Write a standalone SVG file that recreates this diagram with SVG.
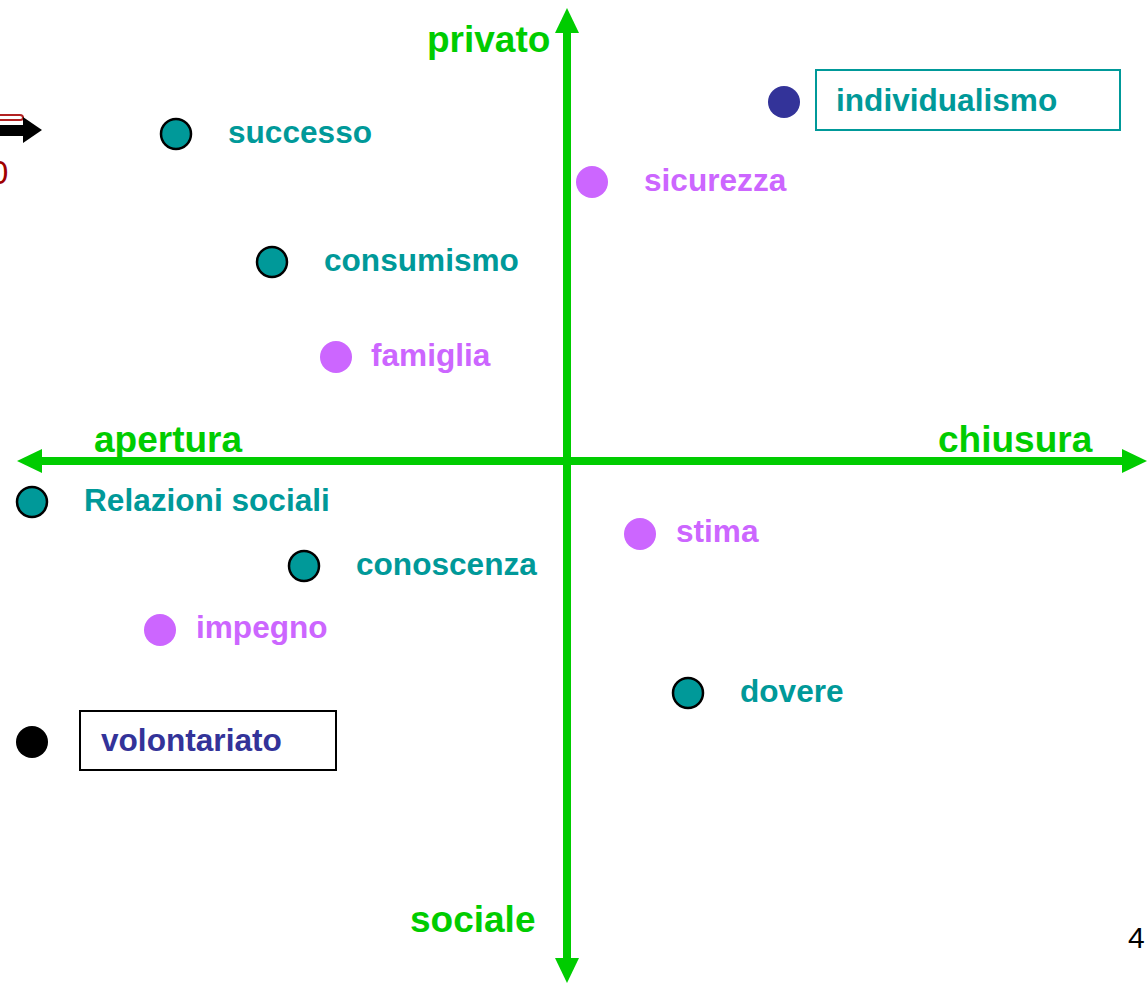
<svg xmlns="http://www.w3.org/2000/svg" width="1147" height="985" viewBox="0 0 1147 985">
<style>
text{font-family:"Liberation Sans",Arial,sans-serif;font-weight:bold}
.ax{fill:#00CC00;font-size:37px}
.lb{font-size:31.6px}
.t{fill:#009999}
.p{fill:#CC66FF}
.b{fill:#333399}
.ct{fill:#009999;stroke:#000;stroke-width:2.5}
.cp{fill:#CC66FF}
.axis{stroke:#00CC00;stroke-width:8;fill:none}
.head{fill:#00CC00}
</style>
<rect width="1147" height="985" fill="#fff"/>
<g id="connectors">
<line class="axis" x1="567" y1="28" x2="567" y2="962"/>
<polygon class="head" points="567,8 555,33 579,33"/>
<polygon class="head" points="567,983 555,958 579,958"/>
<line class="axis" x1="38" y1="461" x2="1127" y2="461"/>
<polygon class="head" points="17,461 42,449 42,473"/>
<polygon class="head" points="1147,461 1122,449 1122,473"/>
</g>
<g id="axis-labels">
<text class="ax" x="427" y="52">privato</text>
<text class="ax" x="410" y="932">sociale</text>
<text class="ax" x="94" y="452">apertura</text>
<text class="ax" x="938" y="452">chiusura</text>
</g>
<g id="corner">
<path d="M0,115 H20 Q23,115 23,117.5 Q23,120 20,120 H0" fill="none" stroke="#B22222" stroke-width="2"/>
<rect x="0" y="125" width="25" height="11" fill="#000"/>
<polygon points="23,117 42,130 23,143" fill="#000"/>
<text x="-10" y="184" style="font-weight:normal;font-size:33px;fill:#A00000">0</text>
</g>
<g id="n-successo"><circle class="ct" cx="176" cy="134" r="15"/><text class="lb t" x="228" y="143">successo</text></g>
<g id="n-individualismo"><circle cx="784" cy="102" r="16" fill="#333399"/><rect x="816" y="70" width="304" height="60" fill="none" stroke="#009999" stroke-width="2"/><text class="lb t" x="836" y="111">individualismo</text></g>
<g id="n-sicurezza"><circle class="cp" cx="592" cy="182" r="16"/><text class="lb p" x="644" y="191">sicurezza</text></g>
<g id="n-consumismo"><circle class="ct" cx="272" cy="262" r="15"/><text class="lb t" x="324" y="271">consumismo</text></g>
<g id="n-famiglia"><circle class="cp" cx="336" cy="357" r="16"/><text class="lb p" x="371" y="366">famiglia</text></g>
<g id="n-relazioni"><circle class="ct" cx="32" cy="502" r="15"/><text class="lb t" x="84" y="511">Relazioni sociali</text></g>
<g id="n-stima"><circle class="cp" cx="640" cy="534" r="16"/><text class="lb p" x="676" y="542">stima</text></g>
<g id="n-conoscenza"><circle class="ct" cx="304" cy="566" r="15"/><text class="lb t" x="356" y="575">conoscenza</text></g>
<g id="n-impegno"><circle class="cp" cx="160" cy="630" r="16"/><text class="lb p" x="196" y="638">impegno</text></g>
<g id="n-dovere"><circle class="ct" cx="688" cy="693" r="15"/><text class="lb t" x="740" y="702">dovere</text></g>
<g id="n-volontariato"><circle cx="32" cy="742" r="16" fill="#000"/><rect x="80" y="711" width="256" height="59" fill="none" stroke="#000" stroke-width="2"/><text class="lb b" x="101" y="751">volontariato</text></g>
<g id="page-number"><text x="1128" y="948" style="font-weight:normal;font-size:30px;fill:#000">4</text></g>
</svg>
